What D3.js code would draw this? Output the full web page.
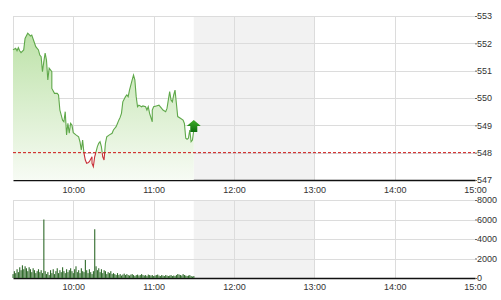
<html>
<head>
<meta charset="utf-8" />
<script src="https://d3js.org/d3.v7.min.js"></script>
<style>
  body { margin: 0px; background: #fff; }
  .tick text { font-family: "Liberation Sans", Arial, sans-serif; font-size: 9px; fill: #333; }
  .grid line { stroke: #dcdcdc; stroke-width: 1; }
</style>
</head>
<body>
<script>
// price line: minutes after 9:00 and index value
var priceMinutes = [15.75, 17.25, 18.2, 19.5, 20.8, 21.75, 23.25, 24.75, 26.5, 28.3, 29.5, 31, 32.8, 34, 35.25, 36.5, 37.3, 38.25, 39.2, 40.3,
  41.5, 42.75, 44, 44.8, 46.5, 48.2, 49.7, 50.8, 52, 53.25, 54.2, 55.3, 56.5, 57.2, 58.3, 59.8, 60.75, 62.25, 64, 65.25,
  66.5, 67.3, 68.25, 69, 70.3, 71.5, 72.75, 74, 74.8, 75.75, 76.5, 77.25, 78.2, 79.5, 80.8, 81.75, 82.7, 83.5, 84.2, 85.3,
  87, 89, 90.2, 92, 93.2, 94.7, 95.8, 96.75, 97.7, 99, 100.3, 101.5, 102.75, 104, 105.2, 106.5, 107.25, 108.2, 109.7, 111.5,
  112.7, 114, 115.3, 116.5, 117.75, 119, 119.8, 120.75, 122.8, 124.7, 126.5, 127.7, 129, 130.3, 131.5, 132.2, 133.3, 134.25, 135.2, 136,
  137, 138.2, 140.25, 142, 143.25, 144.2, 145.7, 146.8, 147.75, 148.5, 149.5, 150.2];
var priceValues = [551.76, 551.82, 551.73, 551.84, 551.73, 551.66, 551.76, 552.18, 552.37, 552.27, 552.30, 552.02, 551.88, 551.76, 551.57, 551.51, 550.96, 551.33, 551.64, 551.39,
  550.66, 551.09, 550.96, 550.35, 550.17, 550.17, 550.11, 549.56, 549.19, 549.13, 549.50, 548.65, 549.07, 548.71, 549.07, 549.01, 548.73, 548.65, 548.58, 548.40,
  548.10, 548.46, 547.98, 547.73, 547.61, 547.63, 547.67, 547.85, 547.61, 547.49, 547.85, 548.03, 548.22, 548.34, 548.40, 548.22, 547.85, 547.73, 548.34, 548.58,
  548.65, 548.71, 548.83, 548.95, 549.07, 549.19, 549.29, 549.44, 549.86, 550.05, 550.11, 550.05, 550.29, 550.66, 550.84, 550.66, 550.05, 549.68, 549.74, 549.68,
  549.71, 549.68, 549.56, 549.68, 549.44, 549.13, 549.56, 549.68, 549.71, 549.74, 549.62, 549.56, 549.50, 549.62, 549.93, 550.23, 549.93, 549.86, 550.11, 550.29,
  549.81, 549.32, 549.26, 549.19, 549.07, 548.53, 548.49, 548.53, 548.83, 548.40, 548.46, 548.83];
var refPrice = 548;

// volume per minute starting 9:15
var volumeStart = 15;
var volumes = [400, 700, 500, 900, 600, 1100, 800, 1300, 900, 1200,
  1000, 700, 1100, 900, 600, 1000, 800, 500, 700, 900,
  600, 800, 500, 6000, 700, 400, 600, 300, 800, 500,
  900, 400, 700, 1000, 500, 800, 600, 1100, 700, 500,
  900, 600, 800, 1000, 700, 500, 900, 1200, 600, 800,
  500, 1000, 700, 600, 1850, 800, 500, 900, 600, 400,
  700, 5000, 1200, 800, 1000, 600, 900, 500, 800, 700,
  400, 600, 500, 700, 400, 500, 400, 300, 500, 300,
  400, 250, 350, 450, 300, 400, 300, 250, 350, 400,
  300, 200, 300, 350, 250, 300, 400, 300, 250, 300,
  200, 350, 300, 250, 300, 200, 250, 300, 350, 250,
  200, 300, 250, 200, 300, 250, 200, 250, 300, 200,
  250, 200, 300, 400, 350, 300, 250, 400, 300, 250,
  200, 250, 300, 200, 150, 200];

var hourTicks = ["10:00", "11:00", "12:00", "13:00", "14:00", "15:00"];
var priceTicks = [547, 548, 549, 550, 551, 552, 553];
var volumeTicks = [0, 2000, 4000, 6000, 8000];
var breakStart = "11:30", breakEnd = "13:00";

var width = 501, height = 300;
var left = 13, right = 475;
var base = new Date(2020, 0, 1, 9, 0);
var parseHM = d3.timeParse("%H:%M");
function toDate(min) { return d3.timeMinute.offset(base, min); }
function hm(s) { var t = parseHM(s); return toDate(t.getHours() * 60 + t.getMinutes() - 540); }

var x = d3.scaleTime().domain([toDate(15), toDate(360)]).range([left, right]);
var yP = d3.scaleLinear().domain([547, 553]).range([180, 16]);
var yV = d3.scaleLinear().domain([0, 8000]).range([278, 200]);

var svg = d3.select("body").append("svg").attr("width", width).attr("height", height);

var defs = svg.append("defs");
var grad = defs.append("linearGradient").attr("id", "areaGrad")
  .attr("gradientUnits", "userSpaceOnUse").attr("x1", 0).attr("y1", 20).attr("x2", 0).attr("y2", 180);
grad.append("stop").attr("offset", "0%").attr("stop-color", "#b8e0a2");
grad.append("stop").attr("offset", "100%").attr("stop-color", "#f7fbf4");
var agrad = defs.append("linearGradient").attr("id", "arrowGrad").attr("x1", 0).attr("y1", 0).attr("x2", 0).attr("y2", 1);
agrad.append("stop").attr("offset", "0%").attr("stop-color", "#3fae2a");
agrad.append("stop").attr("offset", "100%").attr("stop-color", "#0d6e0d");
defs.append("clipPath").attr("id", "aboveRef").append("rect")
  .attr("x", 0).attr("y", 0).attr("width", width).attr("height", yP(refPrice));
defs.append("clipPath").attr("id", "belowRef").append("rect")
  .attr("x", 0).attr("y", yP(refPrice)).attr("width", width).attr("height", height);

function panel(yScale, ticks, fmt, labelPad) {
  var top = yScale.range()[1], bottom = yScale.range()[0];
  // lunch break shade
  svg.append("rect").attr("x", x(hm(breakStart))).attr("y", top)
    .attr("width", x(hm(breakEnd)) - x(hm(breakStart))).attr("height", bottom - top)
    .attr("fill", "#f2f2f2");
  var g = svg.append("g").attr("class", "grid");
  g.selectAll(".h").data(ticks.slice(1)).enter().append("line")
    .attr("x1", left).attr("x2", right)
    .attr("y1", d => Math.round(yScale(d)) + 0.5).attr("y2", d => Math.round(yScale(d)) + 0.5);
  g.selectAll(".v").data(hourTicks.slice(0, 5)).enter().append("line")
    .attr("x1", d => Math.round(x(hm(d))) + 0.5).attr("x2", d => Math.round(x(hm(d))) + 0.5)
    .attr("y1", top).attr("y2", bottom);
  g.append("line").attr("x1", left + 0.5).attr("x2", left + 0.5).attr("y1", top).attr("y2", bottom);

  var ax = svg.append("g").attr("transform", "translate(0," + bottom + ")")
    .call(d3.axisBottom(x).tickValues(hourTicks.map(hm)).tickFormat(d3.timeFormat("%H:%M"))
      .tickSize(0).tickPadding(labelPad));
  ax.select(".domain").attr("stroke", "#111").attr("stroke-width", 1.5);

  var ay = svg.append("g").attr("transform", "translate(" + right + ",0)")
    .call(d3.axisRight(yScale).tickValues(ticks).tickFormat(fmt).tickSize(2).tickPadding(0));
  ay.select(".domain").remove();
  ay.selectAll(".tick line").attr("stroke", "#666");
}

panel(yP, priceTicks, d3.format("d"), 7);
panel(yV, volumeTicks, d3.format("d"), 6);

// price area + line
var pts = priceMinutes.map((m, i) => ({ t: toDate(m), v: priceValues[i] }));
svg.append("path").datum(pts)
  .attr("d", d3.area().x(d => x(d.t)).y0(180).y1(d => yP(d.v)))
  .attr("fill", "url(#areaGrad)");
var line = d3.line().x(d => x(d.t)).y(d => yP(d.v));
svg.append("path").datum(pts).attr("d", line).attr("fill", "none")
  .attr("stroke", "#5fa84a").attr("stroke-width", 1.1).attr("clip-path", "url(#aboveRef)");
svg.append("path").datum(pts).attr("d", line).attr("fill", "none")
  .attr("stroke", "#c8313a").attr("stroke-width", 1.1).attr("clip-path", "url(#belowRef)");

// reference line
svg.append("line").attr("x1", left).attr("x2", right)
  .attr("y1", yP(refPrice)).attr("y2", yP(refPrice))
  .attr("stroke", "#cc1111").attr("stroke-width", 1).attr("stroke-dasharray", "3,2");

// up arrow at last point
var last = pts[pts.length - 1];
var ax0 = x(last.t), ay0 = yP(last.v);
svg.append("path")
  .attr("d", "M" + ax0 + "," + (ay0 - 10) + " l7,6 h-3.5 v6 h-7 v-6 h-3.5 z")
  .attr("fill", "url(#arrowGrad)");

// volume bars
svg.append("g").selectAll("rect").data(volumes).enter().append("rect")
  .attr("x", (d, i) => x(toDate(volumeStart + i)) - 0.5)
  .attr("width", 1.1)
  .attr("y", d => yV(d))
  .attr("height", d => yV(0) - yV(d))
  .attr("fill", "#2f6a2a");
</script>
</body>
</html>
